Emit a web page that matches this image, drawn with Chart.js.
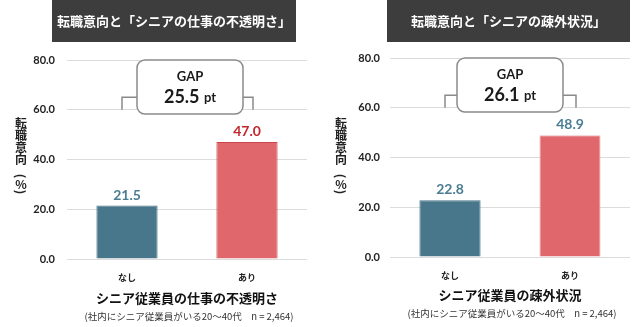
<!DOCTYPE html>
<html lang="ja">
<head>
<meta charset="utf-8">
<script src="https://cdn.jsdelivr.net/npm/chart.js@4"></script>
<style>
  html, body { margin: 0; padding: 0; background: #fff; }
  .wrap { display: flex; width: 640px; height: 327px; }
  canvas { display: block; }
</style>
</head>
<body>
<div class="wrap">
  <canvas id="left" width="320" height="327"></canvas>
  <canvas id="right" width="320" height="327"></canvas>
</div>
<script>
const categories = ['なし', 'あり'];
const opacityValues = [21.5, 47.0];
const alienationValues = [22.8, 48.9];
const yTickValues = [0, 20, 40, 60, 80];
const yAxisTitle = ['転', '職', '意', '向'];
const sampleNote = '(社内にシニア従業員がいる20～40代　n = 2,464)';

const JP = '"Noto Sans CJK JP", sans-serif';
const NUM = 'Lato, "Noto Sans CJK JP", sans-serif';
const TEAL = '#48768a';
const RED = '#e0676c';

// title box, value labels, GAP callout, axis titles
const panelDecor = {
  id: 'panelDecor',
  afterDatasetsDraw(chart, args, o) {
    const ctx = chart.ctx;
    const xs = chart.scales.x, ys = chart.scales.y;
    const bars = chart.getDatasetMeta(0).data;
    const vals = chart.data.datasets[0].data;
    ctx.save();

    // header box
    ctx.fillStyle = '#3d3d3d';
    ctx.fillRect(o.boxX, 0, o.boxW, 42);
    ctx.fillStyle = '#fff';
    ctx.font = 'bold 13px ' + JP;
    ctx.textAlign = 'center';
    ctx.textBaseline = 'middle';
    ctx.fillText(o.title, o.boxX + o.boxW / 2, 21);

    // values above the bars
    ctx.font = 'bold 14px ' + NUM;
    ctx.textBaseline = 'alphabetic';
    bars.forEach((b, i) => {
      ctx.fillStyle = o.labelColors[i];
      ctx.fillText(vals[i].toFixed(1), b.x, b.y - 6);
    });

    // bracket between the two bars
    const xl = bars[0].x - 5, xr = bars[1].x + 6;
    const yb = ys.getPixelForValue(65), ye = ys.getPixelForValue(60);
    ctx.strokeStyle = '#8a8a8a';
    ctx.lineWidth = 1.5;
    ctx.beginPath();
    ctx.moveTo(xl, ye); ctx.lineTo(xl, yb); ctx.lineTo(xr, yb); ctx.lineTo(xr, ye);
    ctx.stroke();

    // GAP box
    const mid = (bars[0].x + bars[1].x) / 2 + o.gapShift;
    const top = ys.getPixelForValue(80);
    const bw = 106, bh = 54;
    ctx.beginPath();
    ctx.roundRect(mid - bw / 2, top, bw, bh, 8);
    ctx.fillStyle = '#fff';
    ctx.fill();
    ctx.stroke();
    ctx.fillStyle = '#1a1a1a';
    ctx.textBaseline = 'middle';
    ctx.font = 'bold 13px ' + NUM;
    ctx.fillText('GAP', mid, top + 17);
    const gap = (vals[1] - vals[0]).toFixed(1);
    ctx.font = 'bold 18px ' + NUM;
    const w1 = ctx.measureText(gap + ' ').width;
    ctx.font = 'bold 13px ' + NUM;
    const w2 = ctx.measureText('pt').width;
    const sx = mid - (w1 + w2) / 2;
    ctx.textAlign = 'left';
    ctx.font = 'bold 18px ' + NUM;
    ctx.fillText(gap, sx, top + 37);
    ctx.font = 'bold 13px ' + NUM;
    ctx.fillText('pt', sx + w1, top + 38);

    // vertical y title
    ctx.textAlign = 'center';
    ctx.fillStyle = '#222';
    ctx.font = 'bold 12px ' + JP;
    yAxisTitle.forEach((c, i) => ctx.fillText(c, 21, 123 + i * 12));
    ctx.fillText('%', 21, 184);
    [['(', 176], [')', 192]].forEach(([c, y]) => {
      ctx.save();
      ctx.translate(21, y);
      ctx.rotate(Math.PI / 2);
      ctx.fillText(c, 0, 0);
      ctx.restore();
    });

    // x titles
    const cx = (xs.left + xs.right) / 2;
    ctx.fillStyle = '#111';
    ctx.font = 'bold 13px ' + JP;
    ctx.fillText(o.xTitle, cx, o.xTitleY);
    ctx.fillStyle = '#333';
    ctx.font = '9.5px ' + JP;
    ctx.fillText(sampleNote, cx + 2, o.xTitleY + 18);

    ctx.restore();
  }
};

function makeChart(id, values, p) {
  return new Chart(document.getElementById(id), {
    type: 'bar',
    data: {
      labels: categories,
      datasets: [{
        data: values,
        backgroundColor: [TEAL, RED],
        borderColor: [TEAL, p.redBorder],
        borderWidth: 1,
        barPercentage: 0.51,
        categoryPercentage: 1
      }]
    },
    options: {
      responsive: false,
      animation: false,
      layout: { padding: { top: p.top, right: p.right, left: 0, bottom: 0 } },
      plugins: {
        legend: { display: false },
        tooltip: { enabled: false },
        panelDecor: p
      },
      scales: {
        x: {
          grid: { display: false },
          border: { display: false },
          ticks: { color: '#222', font: { family: JP, size: 9, weight: 'bold' }, padding: 5 },
          afterFit: s => { s.height = 327 - 259 - (p.top - 60); }
        },
        y: {
          min: 0, max: 80,
          afterBuildTicks: s => { s.ticks = yTickValues.map(v => ({ value: v })); },
          grid: { color: '#dcdcdc', drawTicks: false },
          border: { display: false },
          ticks: {
            color: '#222', padding: p.tickPad,
            font: { family: NUM, size: 11, weight: 'bold' },
            callback: v => v.toFixed(1)
          },
          afterFit: s => { s.width = p.axisW; }
        }
      }
    },
    plugins: [panelDecor]
  });
}

makeChart('left', opacityValues, {
  top: 60, right: 13, axisW: 67, tickPad: 12, redBorder: '#c9444c',
  boxX: 52, boxW: 244, title: '転職意向と「シニアの仕事の不透明さ」',
  labelColors: ['#4a7c92', '#c1272d'], gapShift: 3,
  xTitle: 'シニア従業員の仕事の不透明さ', xTitleY: 298
});
makeChart('right', alienationValues, {
  top: 58, right: 10, axisW: 70, tickPad: 10, redBorder: '#f0b8ba',
  boxX: 67, boxW: 243, title: '転職意向と「シニアの疎外状況」',
  labelColors: ['#4a7c92', '#4a7c92'], gapShift: 0,
  xTitle: 'シニア従業員の疎外状況', xTitleY: 295
});
</script>
</body>
</html>
